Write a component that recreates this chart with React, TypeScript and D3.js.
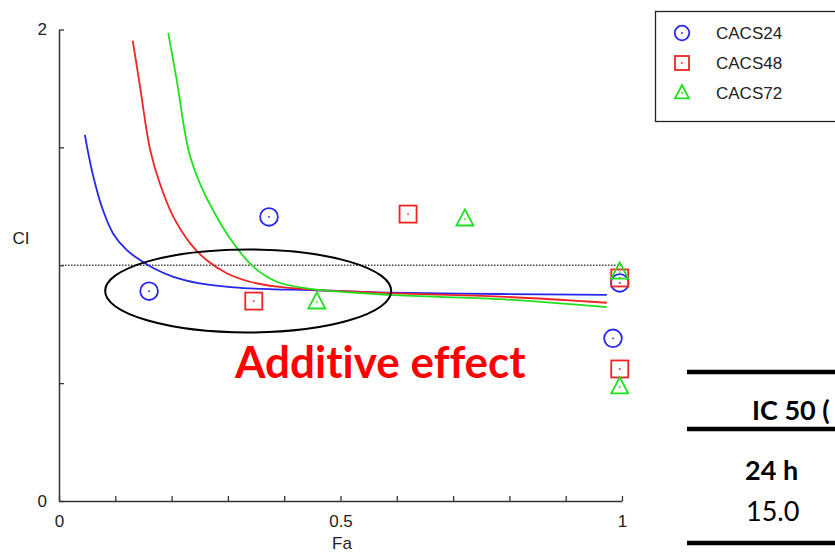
import React, { useEffect, useRef } from "react";
import * as d3 from "d3";

// series names
const seriesNames = ["CACS24", "CACS48", "CACS72"];
const seriesColors = ["#2626ee", "#f02424", "#1ee01e"];

// measured points (Fa, CI)
const faCacs24 = [0.16, 0.373, 0.996, 0.984];
const ciCacs24 = [0.89, 1.205, 0.925, 0.69];
const faCacs48 = [0.346, 0.62, 0.996, 0.996];
const ciCacs48 = [0.848, 1.217, 0.946, 0.56];
const faCacs72 = [0.458, 0.721, 0.996, 0.996];
const ciCacs72 = [0.844, 1.196, 0.971, 0.484];

// simulated Fa-CI curves
const curveFa24 = [0.046, 0.052, 0.061, 0.076, 0.096, 0.12, 0.144, 0.168, 0.203, 0.25, 0.31, 0.381, 0.446, 0.588, 0.783, 0.973];
const curveCi24 = [1.553, 1.475, 1.376, 1.248, 1.135, 1.065, 1.022, 0.987, 0.951, 0.923, 0.906, 0.898, 0.895, 0.884, 0.878, 0.874];
const curveFa48 = [0.131, 0.144, 0.162, 0.179, 0.203, 0.233, 0.262, 0.298, 0.339, 0.387, 0.44, 0.588, 0.783, 0.973];
const curveCi48 = [1.953, 1.757, 1.489, 1.348, 1.206, 1.093, 1.022, 0.966, 0.93, 0.909, 0.898, 0.882, 0.867, 0.841];
const curveFa72 = [0.194, 0.209, 0.23, 0.25, 0.28, 0.31, 0.345, 0.387, 0.44, 0.588, 0.783, 0.973];
const curveCi72 = [1.986, 1.786, 1.489, 1.348, 1.206, 1.093, 0.994, 0.93, 0.902, 0.874, 0.856, 0.822];

// axis ticks
const faTicks = [0, 0.1, 0.2, 0.3, 0.4, 0.5, 0.6, 0.7, 0.8, 0.9, 1];
const faTickLabels = ["0", "", "", "", "", "0.5", "", "", "", "", "1"];
const ciTicks = [0, 0.5, 1, 1.5, 2];
const ciTickLabels = ["0", "", "", "", "2"];

// table text
const tableHeader = "IC 50 (";
const tableRow = "24 h";
const tableValue = "15.0";

const App = () => {
    const ref = useRef<SVGSVGElement | null>(null);

    useEffect(() => {
        const svg = d3.select(ref.current);
        svg.selectAll("*").remove();

        const x = d3.scaleLinear().domain([0, 1]).range([59, 622]);
        const y = d3.scaleLinear().domain([0, 2]).range([501, 29.5]);
        const axisFont = "'Liberation Sans', Arial, sans-serif";
        const axisSize = "17px";

        // Axes
        const xAxis = svg.append("g").attr("transform", "translate(0, 501)")
            .call(d3.axisBottom(x).tickValues(faTicks).tickSizeInner(-5).tickSizeOuter(0).tickPadding(14)
                .tickFormat((d, i) => faTickLabels[i]));
        const yAxis = svg.append("g").attr("transform", "translate(59, 0)")
            .call(d3.axisLeft(y).tickValues(ciTicks).tickSizeInner(-5).tickSizeOuter(0).tickPadding(12)
                .tickFormat((d, i) => ciTickLabels[i]));
        [xAxis, yAxis].forEach(a => {
            a.select(".domain").attr("stroke", "#333").attr("stroke-width", 1.5);
            a.selectAll(".tick line").attr("stroke", "#333").attr("stroke-width", 1.3);
            a.selectAll(".tick text").attr("fill", "#222").style("font-family", axisFont).style("font-size", axisSize);
        });

        svg.append("text").attr("x", 342).attr("y", 549).attr("text-anchor", "middle")
            .style("font-family", axisFont).style("font-size", axisSize).attr("fill", "#222").text("Fa");
        svg.append("text").attr("x", 21).attr("y", 244).attr("text-anchor", "middle")
            .style("font-family", axisFont).style("font-size", axisSize).attr("fill", "#222").text("CI");

        // CI = 1 reference line
        svg.append("line").attr("x1", x(0)).attr("x2", x(1)).attr("y1", y(1)).attr("y2", y(1))
            .attr("stroke", "#444").attr("stroke-width", 1.5).attr("stroke-dasharray", "1.5,1.5");

        // Curves
        const line = d3.line<number[]>().x(d => x(d[0])).y(d => y(d[1])).curve(d3.curveCatmullRom.alpha(0.5));
        const curves = [
            d3.zip(curveFa24, curveCi24),
            d3.zip(curveFa48, curveCi48),
            d3.zip(curveFa72, curveCi72),
        ];
        svg.selectAll(".curve").data(curves).join("path").attr("class", "curve")
            .attr("d", d => line(d))
            .attr("fill", "none")
            .attr("stroke", (d, i) => seriesColors[i])
            .attr("stroke-width", 1.8);

        // Markers
        const drawMarker = (g: any, kind: number, cx: number, cy: number, color: string, s: number) => {
            if (kind === 0) {
                g.append("circle").attr("cx", cx).attr("cy", cy).attr("r", s * 0.52)
                    .attr("fill", "none").attr("stroke", color).attr("stroke-width", 1.8);
            } else if (kind === 1) {
                g.append("rect").attr("x", cx - s / 2).attr("y", cy - s / 2).attr("width", s).attr("height", s)
                    .attr("fill", "none").attr("stroke", color).attr("stroke-width", 1.8);
            } else {
                const h = s * 0.95;
                g.append("path")
                    .attr("d", `M${cx},${cy - h * 0.6}L${cx + s / 2},${cy + h * 0.4}L${cx - s / 2},${cy + h * 0.4}Z`)
                    .attr("fill", "none").attr("stroke", color).attr("stroke-width", 1.8);
            }
            g.append("circle").attr("cx", cx).attr("cy", cy).attr("r", 0.9).attr("fill", color);
        };

        const pts = [
            [faCacs24, ciCacs24],
            [faCacs48, ciCacs48],
            [faCacs72, ciCacs72],
        ];
        const markers = svg.append("g");
        pts.forEach((p, k) => {
            p[0].forEach((fa, j) => {
                drawMarker(markers, k, x(fa), y(p[1][j]), seriesColors[k], 17);
            });
        });

        // Ellipse annotation
        svg.append("ellipse")
            .attr("cx", x(0.336)).attr("cy", y(0.891))
            .attr("rx", x(0.254) - x(0)).attr("ry", y(0) - y(0.176))
            .attr("fill", "none").attr("stroke", "#000").attr("stroke-width", 2);

        svg.append("text").attr("x", 235).attr("y", 378)
            .style("font-family", "Lato, 'Open Sans', sans-serif").style("font-weight", "bold").style("font-size", "44px")
            .style("font-variant-ligatures", "none")
            .attr("fill", "#ff0000").text("Additive effect");

        // Legend
        const legend = svg.append("g");
        legend.append("rect").attr("x", 655.5).attr("y", 11.5).attr("width", 200).attr("height", 110)
            .attr("fill", "#fff").attr("stroke", "#222").attr("stroke-width", 1.3);
        seriesNames.forEach((name, i) => {
            const ly = 33 + i * 30;
            drawMarker(legend, i, 682, ly, seriesColors[i], 14);
            legend.append("text").attr("x", 716).attr("y", ly + 6)
                .style("font-family", axisFont).style("font-size", axisSize).attr("fill", "#222").text(name);
        });

        // Table fragment
        const table = svg.append("g");
        [372, 429, 543].forEach(ty => {
            table.append("line").attr("x1", 687).attr("x2", 835).attr("y1", ty).attr("y2", ty)
                .attr("stroke", "#000").attr("stroke-width", 4.5);
        });
        const tableFont = "Lato, 'Open Sans', sans-serif";
        table.append("text").attr("x", 752).attr("y", 420).style("font-family", tableFont)
            .style("font-weight", "bold").style("font-size", "27px").attr("fill", "#000").text(tableHeader);
        table.append("text").attr("x", 745).attr("y", 480).style("font-family", tableFont)
            .style("font-weight", "bold").style("font-size", "27px").attr("fill", "#000").text(tableRow);
        table.append("text").attr("x", 746).attr("y", 521).style("font-family", tableFont)
            .style("font-size", "27px").attr("fill", "#000").text(tableValue);
    }, []);

    return (
        <svg ref={ref} width={835} height={555}
            style={{ position: "absolute", left: 0, top: 0, background: "#fff" }} />
    );
};

export default App;
